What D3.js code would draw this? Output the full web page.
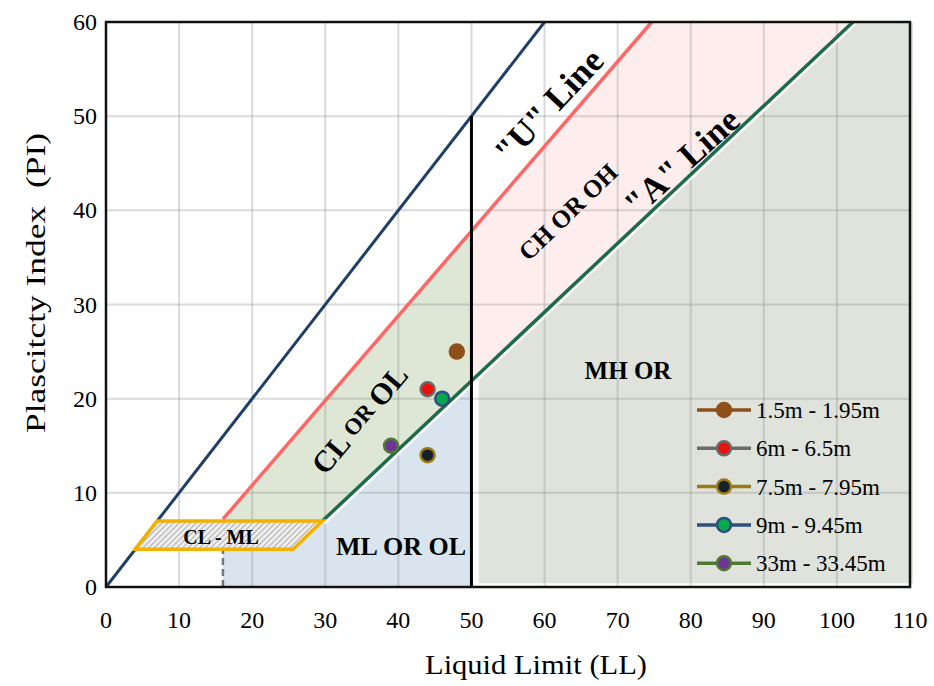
<!DOCTYPE html>
<html>
<head>
<meta charset="utf-8">
<script src="https://cdn.jsdelivr.net/npm/d3@7"></script>
<style>
  body { margin: 0; background: #fff; }
  svg text { font-family: "Liberation Serif", "DejaVu Serif", serif; }
</style>
</head>
<body>
<svg id="chart" width="934" height="686"></svg>
<script>
// Soil samples: liquid limit and plasticity index
const seriesNames = ["1.5m - 1.95m", "6m - 6.5m", "7.5m - 7.95m", "9m - 9.45m", "33m - 33.45m"];
const llValues = [48, 44, 44, 46, 39];
const piValues = [25, 21, 14, 20, 15];
const markerFill = ["#8e4f1a", "#e8120c", "#16202a", "#08a84e", "#6f3594"];
const markerEdge = ["#8e4f1a", "#6a6a6a", "#9a7a12", "#2f4f7f", "#4e7a34"];

// Axis ticks
const xTicks = [0, 10, 20, 30, 40, 50, 60, 70, 80, 90, 100, 110];
const yTicks = [0, 10, 20, 30, 40, 50, 60];

// Reference lines in (LL, PI)
const limitLine = [[0, 0], [60, 60]];
const uLine = [[16, 7.2], [74.67, 60]];
const aLine = [[29.6, 7], [102.2, 60]];

// Zones
const zoneCL = [[16, 7], [29.6, 7], [50, 21.9], [50, 37.8], [16, 7.2]];
const zoneCH = [[50, 37.8], [74.67, 60], [102.2, 60], [50, 21.9]];
const zoneML = [[16, 0], [16, 7], [29.6, 7], [50, 21.9], [50, 0]];
const zoneMH = [[51, 0.4], [51, 22.6], [102.2, 60], [110.4, 60], [110.4, 0.4]];
const zoneCLML = [[4, 4], [7, 7], [29.6, 7], [25.6, 4]];

const svg = d3.select("#chart");
const margin = { left: 106, right: 24, top: 22, bottom: 99 };
const width = 934 - margin.left - margin.right,
      height = 686 - margin.top - margin.bottom;

const x = d3.scaleLinear().domain([0, 110]).range([margin.left, margin.left + width]);
const y = d3.scaleLinear().domain([0, 60]).range([margin.top + height, margin.top]);

const line = d3.line().x(d => x(d[0])).y(d => y(d[1]));
const poly = pts => line(pts) + "Z";

// hatch pattern for CL-ML
const defs = svg.append("defs");
const pat = defs.append("pattern")
    .attr("id", "hatch")
    .attr("width", 4).attr("height", 4)
    .attr("patternUnits", "userSpaceOnUse")
    .attr("patternTransform", "rotate(45)");
pat.append("rect").attr("width", 4).attr("height", 4).attr("fill", "#eeeeee");
pat.append("line").attr("x1", 0).attr("y1", 0).attr("x2", 0).attr("y2", 4)
    .attr("stroke", "#9c9c9c").attr("stroke-width", 1.6);

// zone fills
svg.append("path").attr("d", poly(zoneMH)).attr("fill", "#dfe3dc");
svg.append("path").attr("d", poly(zoneCH)).attr("fill", "#fdeeed");
svg.append("path").attr("d", poly(zoneCL)).attr("fill", "#dee6d6");
svg.append("path").attr("d", poly(zoneML)).attr("fill", "#dae4ef");

// gridlines
svg.append("g")
    .selectAll("line.vg")
    .data(xTicks.slice(1))
    .enter()
    .append("line")
        .attr("x1", d => x(d)).attr("x2", d => x(d))
        .attr("y1", y(0)).attr("y2", y(60))
        .attr("stroke", "rgba(140,140,140,0.32)").attr("stroke-width", 2);
svg.append("g")
    .selectAll("line.hg")
    .data(yTicks.slice(1))
    .enter()
    .append("line")
        .attr("x1", x(0)).attr("x2", x(110))
        .attr("y1", d => y(d)).attr("y2", d => y(d))
        .attr("stroke", "rgba(140,140,140,0.32)").attr("stroke-width", 2);

// dashed line under CL-ML box
svg.append("line")
    .attr("x1", x(16)).attr("x2", x(16))
    .attr("y1", y(0)).attr("y2", y(4))
    .attr("stroke", "#6f7780").attr("stroke-width", 2.5)
    .attr("stroke-dasharray", "7,4");

// reference lines
svg.append("path").attr("d", line(limitLine)).attr("stroke", "#1f3f68").attr("stroke-width", 3).attr("fill", "none");
svg.append("path").attr("d", line(uLine)).attr("stroke", "#ff6666").attr("stroke-width", 3.5).attr("fill", "none");
svg.append("path").attr("d", line(aLine)).attr("stroke", "#fff").attr("stroke-width", 3)
    .attr("transform", "translate(2,2)").attr("fill", "none");
svg.append("path").attr("d", line(aLine)).attr("stroke", "#1e6b48").attr("stroke-width", 3.5).attr("fill", "none");

// LL = 50 divider
svg.append("line")
    .attr("x1", x(50)).attr("x2", x(50))
    .attr("y1", y(0)).attr("y2", y(50))
    .attr("stroke", "#000").attr("stroke-width", 3);

// CL-ML box
svg.append("path").attr("d", poly(zoneCLML))
    .attr("fill", "url(#hatch)")
    .attr("stroke", "#f2b100").attr("stroke-width", 3.5);

// frame
svg.append("rect")
    .attr("x", x(0)).attr("y", y(60))
    .attr("width", x(110) - x(0)).attr("height", y(0) - y(60))
    .attr("fill", "none").attr("stroke", "#111").attr("stroke-width", 2.5);

// ticks labels
svg.append("g")
    .selectAll("text")
    .data(xTicks)
    .enter()
    .append("text")
        .attr("x", d => x(d)).attr("y", y(0) + 41)
        .attr("text-anchor", "middle")
        .attr("font-size", 24)
        .text(d => d);
svg.append("g")
    .selectAll("text")
    .data(yTicks)
    .enter()
    .append("text")
        .attr("x", 97).attr("y", d => y(d) + 8)
        .attr("text-anchor", "end")
        .attr("font-size", 24)
        .text(d => d);

// axis titles
svg.append("text")
    .attr("x", 536).attr("y", 674)
    .attr("text-anchor", "middle").attr("font-size", 27)
    .attr("textLength", 222).attr("lengthAdjust", "spacingAndGlyphs")
    .text("Liquid Limit (LL)");
svg.append("text")
    .attr("transform", "translate(45,283) rotate(-90)")
    .attr("text-anchor", "middle").attr("font-size", 27)
    .attr("xml:space", "preserve")
    .attr("textLength", 300).attr("lengthAdjust", "spacingAndGlyphs")
    .text("Plascitcty Index  (PI)");

// zone labels
function label(txt, cx, cy, angle, size) {
    svg.append("text")
        .attr("transform", "translate(" + cx + "," + cy + ") rotate(" + angle + ")")
        .attr("text-anchor", "middle").attr("dominant-baseline", "central")
        .attr("font-size", size).attr("font-weight", "bold")
        .text(txt);
}
label("\"U\" Line", 549, 106, -47, 35);
label("\"A\" Line", 682, 162, -42, 35);
label("CH OR OH", 568, 212, -44, 25);
label("MH OR", 628, 370, 0, 25);
label("ML OR OL", 401, 546, 0, 26);
label("CL - ML", 221, 537, 0, 20);

const clText = svg.append("text")
    .attr("transform", "translate(359,419) rotate(-50)")
    .attr("text-anchor", "middle").attr("dominant-baseline", "central")
    .attr("font-weight", "bold");
clText.append("tspan").attr("font-size", 30).text("CL ");
clText.append("tspan").attr("font-size", 23).text(" OR ");
clText.append("tspan").attr("font-size", 30).text(" OL");

// data points
svg.append("g")
    .selectAll("circle")
    .data(llValues)
    .enter()
    .append("circle")
        .attr("cx", (d, i) => x(d))
        .attr("cy", (d, i) => y(piValues[i]))
        .attr("r", 7)
        .attr("fill", (d, i) => markerFill[i])
        .attr("stroke", (d, i) => markerEdge[i])
        .attr("stroke-width", 2.5);

// legend
const legend = svg.append("g")
    .selectAll("g")
    .data(seriesNames)
    .enter()
    .append("g")
        .attr("transform", (d, i) => "translate(697," + (410 + i * 38.3) + ")");
legend.append("line")
    .attr("x1", 0).attr("x2", 54)
    .attr("stroke", (d, i) => markerEdge[i]).attr("stroke-width", 3.5);
legend.append("circle")
    .attr("cx", 27).attr("r", 7)
    .attr("fill", (d, i) => markerFill[i])
    .attr("stroke", (d, i) => markerEdge[i]).attr("stroke-width", 2.5);
legend.append("text")
    .attr("x", 59).attr("y", 8)
    .attr("font-size", 23)
    .text(d => d);
</script>
</body>
</html>
